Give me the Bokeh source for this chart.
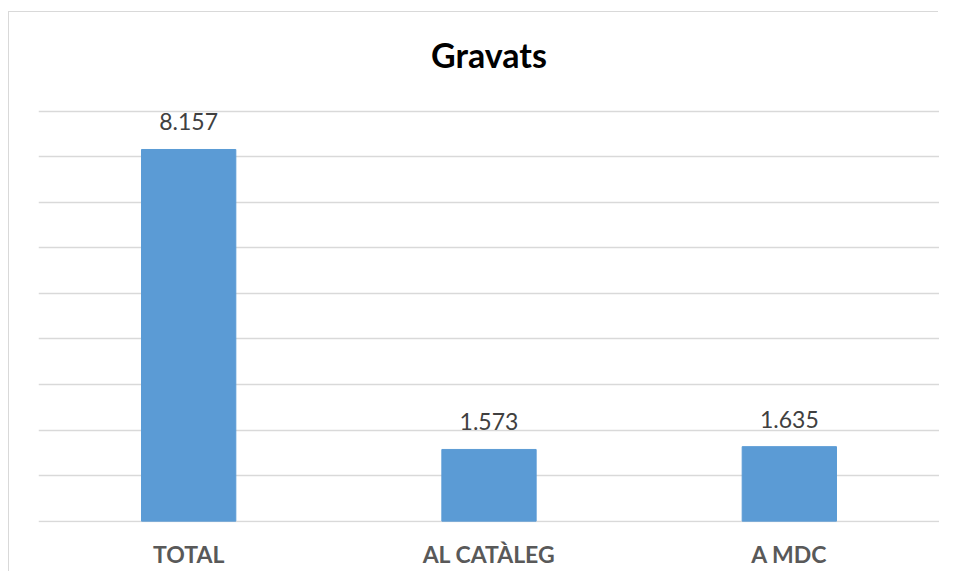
from bokeh.plotting import figure
from bokeh.models import ColumnDataSource, LabelSet, Range1d, FixedTicker, FactorRange
from bokeh.core.properties import value
from bokeh.embed import file_html
from bokeh.resources import INLINE

title_text = "Gravats"
categories = ["TOTAL", "AL CATÀLEG", "A MDC"]
values = [8157, 1573, 1635]
labels = [f"{v:,}".replace(",", ".") for v in values]
y_ticks = list(range(0, 9001, 1000))

src = ColumnDataSource(dict(cat=categories, val=values, lab=labels))
title_src = ColumnDataSource(dict(x=[categories[1]], y=[y_ticks[-1]], t=[title_text]))

p = figure(x_range=FactorRange(*categories, range_padding=0), y_range=Range1d(-30, 11164),
           width=930, height=560, output_backend="svg", toolbar_location=None,
           min_border_left=29, min_border_right=0, min_border_top=0, min_border_bottom=50)
p.margin = (12, 0, 0, 9)
p.styles = {"box-shadow": "-1px -1px 0 #d9d9d9"}
p.outline_line_color = None
p.background_fill_color = "white"
p.border_fill_color = "white"

title = LabelSet(x="x", y="y", text="t", source=title_src, y_offset=43,
                 text_align="center", text_baseline="alphabetic", text_font=value("Lato"),
                 text_font_style="bold", text_font_size="34px", text_color="#000000")
p.add_layout(title)

p.vbar(x="cat", top="val", width=0.314, source=src, color="#5B9BD5")

p.yaxis.visible = False
p.yaxis.ticker = FixedTicker(ticks=y_ticks)
p.ygrid.ticker = FixedTicker(ticks=y_ticks)
p.ygrid.grid_line_color = "#d9d9d9"
p.ygrid.grid_line_width = 1.3
p.xgrid.grid_line_color = None

p.xaxis.axis_line_color = None
p.xaxis.major_tick_line_color = None
p.xaxis.minor_tick_line_color = None
p.xaxis.major_label_text_font = "Lato"
p.xaxis.major_label_text_font_style = "bold"
p.xaxis.major_label_text_font_size = "23px"
p.xaxis.major_label_text_color = "#595959"
p.xaxis.major_label_standoff = 11

ls = LabelSet(x="cat", y="val", text="lab", source=src, text_align="center",
              text_baseline="alphabetic", y_offset=19, text_font=value("Lato"),
              text_font_size="23px", text_color="#404040")
p.add_layout(ls)

open("out.html", "w").write(file_html(p, INLINE))
